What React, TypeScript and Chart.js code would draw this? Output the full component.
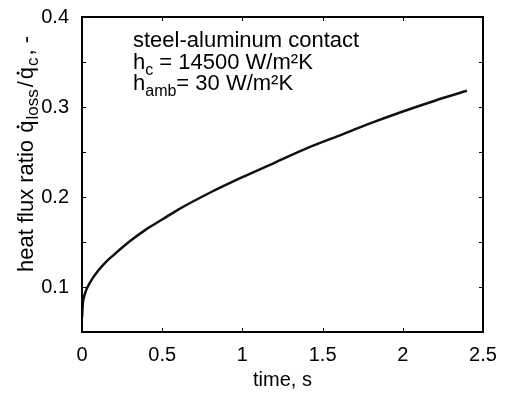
import React, { useEffect, useRef } from 'react';
import { Chart, registerables } from 'chart.js';

Chart.register(...registerables);

// ---- data ----
const timeS = [0, 0.005, 0.01, 0.025, 0.05, 0.1, 0.15, 0.2, 0.3, 0.4, 0.5, 0.6, 0.8, 1.0, 1.2, 1.4, 1.6, 1.8, 2.0, 2.2, 2.4];
const fluxRatio = [0.066, 0.081, 0.087, 0.096, 0.105, 0.118, 0.128, 0.136, 0.151, 0.164, 0.175, 0.186, 0.205, 0.222, 0.238, 0.254, 0.268, 0.282, 0.295, 0.307, 0.318];

const xTickValues = [0, 0.5, 1, 1.5, 2, 2.5];
const yTickValues = [0.1, 0.2, 0.3, 0.4];
const yTickMarks = [0.1, 0.15, 0.2, 0.25, 0.3, 0.35];

const xTitle = 'time, s';
const annotationLine1 = 'steel-aluminum contact';

const FONT = '"Liberation Sans", Arial, Helvetica, sans-serif';

type Seg = { text: string; sub?: boolean; dot?: boolean; gap?: number };

function segWidth(ctx: CanvasRenderingContext2D, s: Seg, main: number, sub: number) {
  ctx.font = `${s.sub ? sub : main}px ${FONT}`;
  return ctx.measureText(s.text).width;
}

function drawRich(ctx: CanvasRenderingContext2D, segs: Seg[], x: number, y: number, main: number, sub: number, subDrop: number) {
  let cx = x;
  ctx.textBaseline = 'alphabetic';
  ctx.textAlign = 'left';
  for (const s of segs) {
    const w = segWidth(ctx, s, main, sub);
    ctx.fillText(s.text, cx, s.sub ? y + subDrop : y);
    if (s.dot) {
      ctx.beginPath();
      ctx.arc(cx + w * 0.5, y - main * 0.52 - 3.5, 1.5, 0, Math.PI * 2);
      ctx.fill();
    }
    cx += w + (s.gap || 0);
  }
  return cx - x;
}

const framePlugin = {
  id: 'framePlugin',
  afterDatasetsDraw(chart: any) {
    const { ctx, chartArea: a, scales } = chart;
    ctx.save();
    ctx.strokeStyle = '#000';
    ctx.fillStyle = '#000';
    ctx.lineWidth = 1;
    ctx.beginPath();
    for (const v of xTickValues) {
      const px = Math.round(scales.x.getPixelForValue(v)) + 0.5;
      ctx.moveTo(px, a.bottom);
      ctx.lineTo(px, a.bottom - 4);
      ctx.moveTo(px, a.top);
      ctx.lineTo(px, a.top + 4);
    }
    for (const v of yTickMarks) {
      const py = Math.round(scales.y.getPixelForValue(v)) + 0.5;
      ctx.moveTo(a.left, py);
      ctx.lineTo(a.left + 4, py);
      ctx.moveTo(a.right, py);
      ctx.lineTo(a.right - 4, py);
    }
    ctx.stroke();
    ctx.lineWidth = 2;
    ctx.strokeRect(a.left, a.top, a.right - a.left, a.bottom - a.top);

    // y-axis title (rotated)
    const ySegs: Seg[] = [
      { text: 'heat flux ratio ', gap: 1 },
      { text: 'q', dot: true, gap: 1 },
      { text: 'loss', sub: true, gap: 2 },
      { text: '/', gap: 2 },
      { text: 'q', dot: true, gap: 1 },
      { text: 'c', sub: true, gap: 2 },
      { text: ', -' },
    ];
    ctx.save();
    ctx.translate(33, 272);
    ctx.rotate(-Math.PI / 2);
    drawRich(ctx, ySegs, 0, 0, 22, 17, 5);
    ctx.restore();

    // annotation
    const am = 22, as = 16;
    ctx.font = `${am}px ${FONT}`;
    ctx.textBaseline = 'alphabetic';
    ctx.fillText(annotationLine1, 133, 47);
    drawRich(ctx, [{ text: 'h' }, { text: 'c', sub: true }, { text: ' = 14500 W/m²K' }], 133, 69, am, as, 6);
    drawRich(ctx, [{ text: 'h' }, { text: 'amb', sub: true }, { text: '= 30 W/m²K' }], 133, 90, am, as, 6);
    ctx.restore();
  },
};

export default function App() {
  const ref = useRef<HTMLCanvasElement | null>(null);
  useEffect(() => {
    if (!ref.current) return;
    const chart = new Chart(ref.current, {
      type: 'line',
      data: {
        datasets: [
          {
            data: timeS.map((t, i) => ({ x: t, y: fluxRatio[i] })),
            borderColor: '#111',
            borderWidth: 2.5,
            pointRadius: 0,
            cubicInterpolationMode: 'monotone',
            fill: false,
          },
        ],
      },
      options: {
        responsive: false,
        animation: false,
        devicePixelRatio: 1,
        layout: { padding: { left: 0, right: 23, top: 16, bottom: 0 } },
        plugins: { legend: { display: false }, tooltip: { enabled: false } },
        scales: {
          x: {
            type: 'linear',
            min: 0,
            max: 2.5,
            grid: { display: false },
            border: { display: false },
            afterBuildTicks: (s: any) => {
              s.ticks = xTickValues.map((v) => ({ value: v }));
            },
            afterFit: (s: any) => {
              s.height = 63;
            },
            ticks: {
              color: '#000',
              font: { family: FONT, size: 20 },
              padding: 3,
              maxRotation: 0,
              autoSkip: false,
              callback: (v: any) => String(v),
            },
            title: {
              display: true,
              text: xTitle,
              color: '#000',
              font: { family: FONT, size: 20 },
              padding: { top: 0, bottom: 3 },
            },
          },
          y: {
            type: 'linear',
            min: 0.05,
            max: 0.4,
            grid: { display: false },
            border: { display: false },
            afterBuildTicks: (s: any) => {
              s.ticks = yTickValues.map((v) => ({ value: v }));
            },
            afterFit: (s: any) => {
              s.width = 82;
            },
            ticks: {
              color: '#000',
              font: { family: FONT, size: 20 },
              padding: 5,
              autoSkip: false,
              callback: (v: any) => Number(v).toFixed(1),
            },
          },
        },
      },
      plugins: [framePlugin],
    } as any);
    return () => chart.destroy();
  }, []);
  return (
    <div style={{ position: 'absolute', left: 0, top: 0, width: 506, height: 395, background: '#fff' }}>
      <canvas ref={ref} width={506} height={395} style={{ display: 'block' }} />
    </div>
  );
}
